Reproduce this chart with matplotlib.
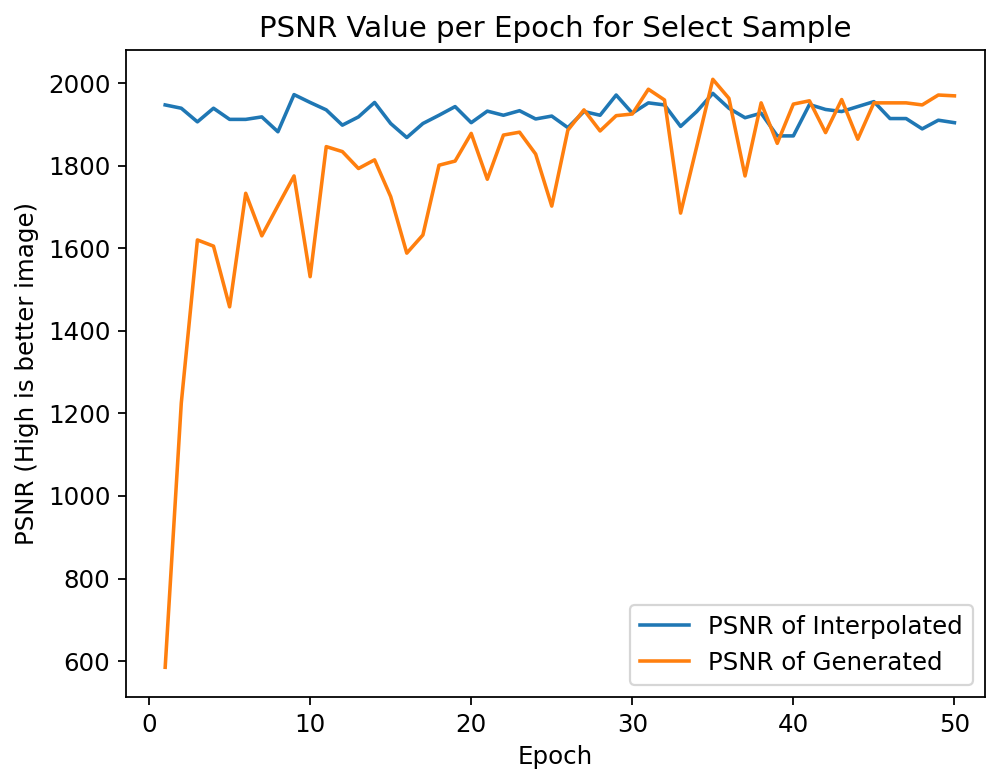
import matplotlib
matplotlib.use("Agg")
import matplotlib.pyplot as plt

epochs = list(range(1, 51))

psnr_interp = [1947, 1939, 1906, 1939, 1912, 1912, 1918, 1882, 1972, 1953,
               1935, 1898, 1918, 1953, 1902, 1868, 1902, 1922, 1943, 1904,
               1932, 1922, 1933, 1913, 1920, 1892, 1931, 1922, 1971, 1927,
               1952, 1947, 1895, 1931, 1975, 1939, 1916, 1927, 1872, 1872,
               1948, 1936, 1931, 1943, 1955, 1914, 1914, 1889, 1910, 1904]

psnr_gen = [585, 1225, 1620, 1605, 1458, 1733, 1630, 1703, 1775, 1531,
            1846, 1834, 1793, 1814, 1725, 1588, 1632, 1801, 1811, 1878,
            1767, 1874, 1881, 1828, 1702, 1886, 1935, 1884, 1921, 1925,
            1985, 1959, 1685, 1846, 2009, 1963, 1775, 1952, 1854, 1949,
            1957, 1880, 1960, 1864, 1952, 1952, 1952, 1947, 1971, 1969]

plt.rcParams["font.size"] = 11
plt.rcParams["lines.linewidth"] = 1.6

fig = plt.figure(figsize=(987 / 160, 773 / 160), dpi=160)
ax = fig.add_axes([0.1277, 0.0983, 0.8703, 0.837])

ax.plot(epochs, psnr_interp, label="PSNR of Interpolated")
ax.plot(epochs, psnr_gen, label="PSNR of Generated")
ax.set_xlim(-1.43, 51.9)
ax.set_ylim(513, 2080)

ax.set_title("PSNR Value per Epoch for Select Sample", fontsize=13.2)
ax.set_xlabel("Epoch")
ax.set_ylabel("PSNR (High is better image)")
ax.legend(loc="lower right")

fig.savefig("out.png", dpi=160)
